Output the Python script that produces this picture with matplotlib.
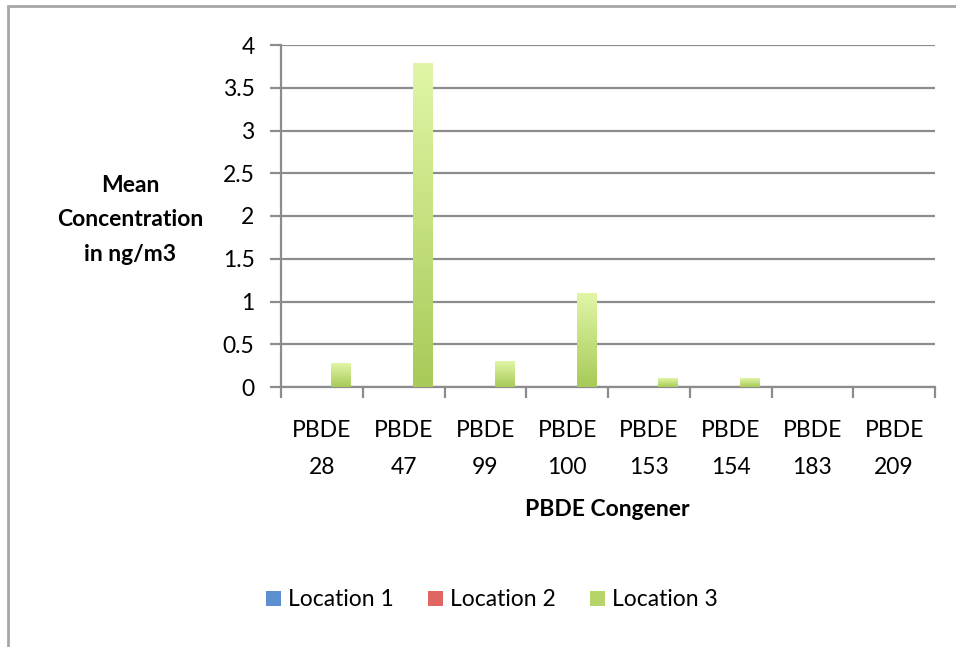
import numpy as np
import matplotlib.pyplot as plt
from matplotlib.colors import LinearSegmentedColormap
from matplotlib.patches import Rectangle

plt.rcParams['font.family'] = ['Lato', 'DejaVu Sans']

congeners = ["PBDE\n28", "PBDE\n47", "PBDE\n99", "PBDE\n100",
             "PBDE\n153", "PBDE\n154", "PBDE\n183", "PBDE\n209"]
location_1 = [0, 0, 0, 0, 0, 0, 0, 0]
location_2 = [0, 0, 0, 0, 0, 0, 0, 0]
location_3 = [0.28, 3.78, 0.3, 1.09, 0.1, 0.1, 0, 0]
series_names = ["Location 1", "Location 2", "Location 3"]

# light top -> darker bottom, like the office-style gradient fills
gradients = [
    ("#a9c8ee", "#4f81bd"),
    ("#f2a9a7", "#c0504d"),
    ("#e0f6a6", "#a8ca58"),
]
legend_colors = ["#5b8fd0", "#e06663", "#b5d46a"]

fs = 16.5

fig = plt.figure(figsize=(9.56, 6.47), dpi=100)

# outer chart frame
fig.add_artist(Rectangle((8 / 956, -0.1), 1.2, 1 - 6 / 647 + 0.1,
                         transform=fig.transFigure, fill=False,
                         edgecolor="#a6a6a6", linewidth=2))

ax = fig.add_axes([281 / 956, 1 - 387 / 647, (935 - 281) / 956, (387 - 45) / 647])

x = np.arange(len(congeners))
width = 0.233
offsets = [-width, 0, width]
grey = "#8c8c8c"

for series, off, (top_c, bot_c), name in zip(
        [location_1, location_2, location_3], offsets, gradients, series_names):
    bars = ax.bar(x + off, series, width, color="none", edgecolor="none", label=name)
    cmap = LinearSegmentedColormap.from_list(name, [bot_c, top_c])
    for b in bars:
        h = b.get_height()
        if h <= 0:
            continue
        x0 = b.get_x()
        grad = np.linspace(0, 1, 256).reshape(-1, 1)
        ax.imshow(grad, cmap=cmap, origin="lower", aspect="auto",
                  extent=[x0, x0 + b.get_width(), 0, h], zorder=3)

ax.set_xlim(-0.5, len(congeners) - 0.5)
ax.set_ylim(0, 4)
ax.set_yticks(np.arange(0, 4.01, 0.5))
ax.set_yticklabels(["0", "0.5", "1", "1.5", "2", "2.5", "3", "3.5", "4"])
ax.yaxis.grid(True, color=grey, linewidth=1.6)
ax.set_axisbelow(True)

ax.set_xticks(x)
ax.set_xticklabels(congeners, fontsize=fs, linespacing=1.9)
ax.set_xticks(np.arange(-0.5, len(congeners)), minor=True)
ax.tick_params(axis="x", which="major", length=0, pad=24)
ax.tick_params(axis="x", which="minor", length=8, width=1.6, color=grey)
ax.tick_params(axis="y", length=8, width=1.6, color=grey, labelsize=fs, pad=11)

for side in ["top", "right"]:
    ax.spines[side].set_visible(False)
for side in ["left", "bottom"]:
    ax.spines[side].set_color(grey)
    ax.spines[side].set_linewidth(1.6)

fig.text(130 / 956, 1 - 220 / 647, "Mean\nConcentration\nin ng/m3",
         ha="center", va="center", fontsize=fs, fontweight="bold",
         linespacing=1.8)
fig.text(607 / 956, 1 - 510 / 647, "PBDE Congener", ha="center", va="center",
         fontsize=fs, fontweight="bold")

handles = [Rectangle((0, 0), 1, 1, facecolor=c, edgecolor="none") for c in legend_colors]
fig.legend(handles, series_names, loc="center", bbox_to_anchor=(492 / 956, 1 - 600 / 647),
           ncol=3, frameon=False, fontsize=fs, handlelength=0.65, handleheight=0.65,
           handletextpad=0.3, columnspacing=1.5)

fig.savefig("out.png", dpi=100, facecolor="white")
